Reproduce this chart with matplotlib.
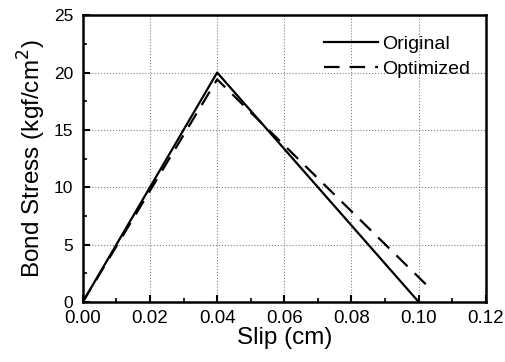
import matplotlib
matplotlib.use('Agg')
import matplotlib.pyplot as plt
from matplotlib.ticker import MultipleLocator

plt.rcParams['font.family'] = ['Liberation Sans', 'DejaVu Sans']

# data
slipOriginal = [0.0, 0.04, 0.10]
stressOriginal = [0.0, 20.0, 0.0]
slipOptimized = [0.0, 0.04, 0.104]
stressOptimized = [0.0, 19.4, 1.0]

fig, ax = plt.subplots()
fig.set_size_inches(5.05, 3.62)
fig.subplots_adjust(left=0.164, right=0.962, top=0.958, bottom=0.166)

ax.plot(slipOriginal, stressOriginal, color='black', linestyle='-', linewidth=1.6, label='Original')
ax.plot(slipOptimized, stressOptimized, color='black', linestyle=(0, (7, 4.5)), linewidth=1.6, label='Optimized')

ax.set_xlim(0, 0.12)
ax.set_ylim(0, 25)
ax.xaxis.set_major_locator(MultipleLocator(0.02))
ax.xaxis.set_minor_locator(MultipleLocator(0.01))
ax.yaxis.set_major_locator(MultipleLocator(5))
ax.yaxis.set_minor_locator(MultipleLocator(2.5))
ax.xaxis.set_major_formatter(plt.FormatStrFormatter('%.2f'))

ax.tick_params(which='both', direction='in', top=False, right=False)
ax.tick_params(which='major', length=5, width=1.5)
ax.tick_params(which='minor', length=3, width=1.2)
ax.tick_params(axis='x', labelsize=13.5, pad=6)
ax.tick_params(axis='y', labelsize=12.5, pad=7)
for spine in ax.spines.values():
    spine.set_linewidth(1.8)

ax.grid(True, which='major', linestyle=':', color='grey', linewidth=0.8)

ax.set_xlabel('Slip (cm)', fontsize=17.5, labelpad=0)
ax.set_ylabel('Bond Stress (kgf/cm$^2$)', fontsize=17.5, labelpad=4)

ax.legend(loc='upper right', bbox_to_anchor=(0.981, 0.956), frameon=False, fontsize=14,
          handlelength=2.8, handletextpad=0.2, borderaxespad=0, labelspacing=0.35)

plt.savefig('out.png', dpi=100)
plt.close()
